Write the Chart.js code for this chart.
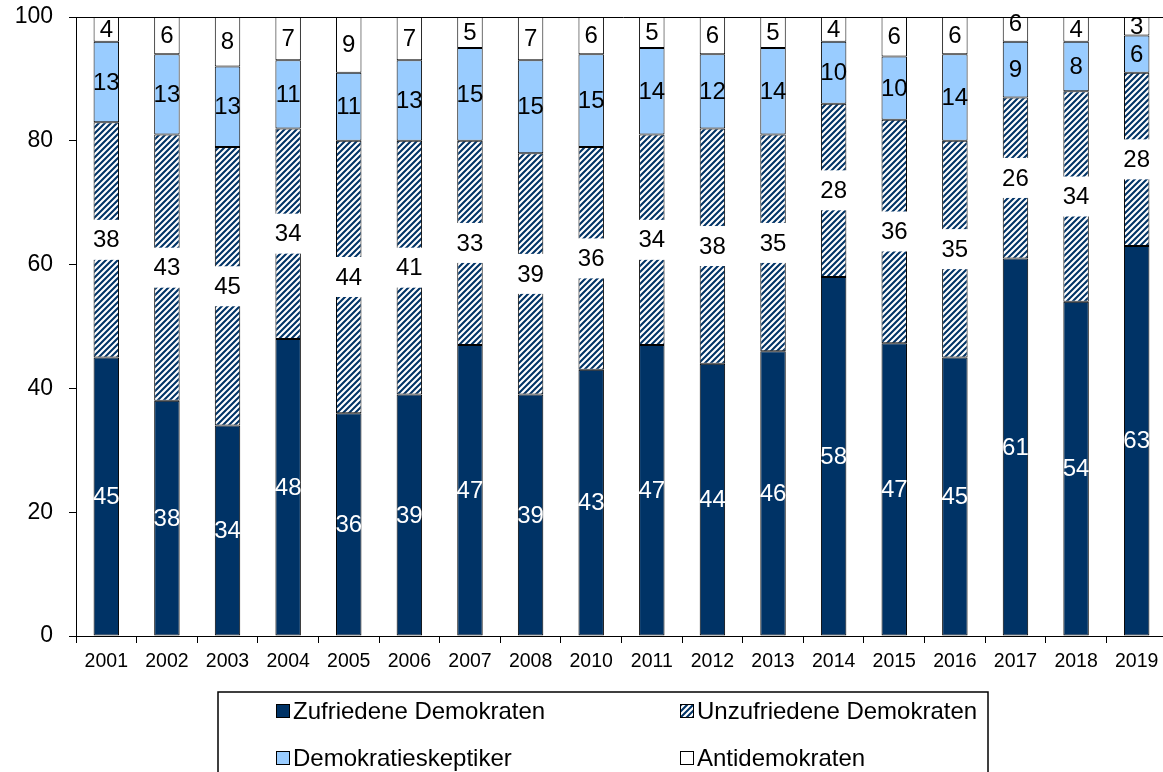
<!DOCTYPE html>
<html><head><meta charset="utf-8">
<script src="https://cdn.jsdelivr.net/npm/chart.js@4/dist/chart.umd.min.js"></script>
<style>html,body{margin:0;padding:0;overflow:hidden;background:#fff}#wrap{width:1170px;height:772px;position:relative}</style>
</head><body><div id="wrap"><canvas id="c" width="1170" height="772" style="width:1170px;height:772px"></canvas></div>
<script>
// ---- data ----
const years = ['2001','2002','2003','2004','2005','2006','2007','2008','2010','2011','2012','2013','2014','2015','2016','2017','2018','2019'];
const zufriedene = [45,38,34,48,36,39,47,39,43,47,44,46,58,47.3,45,61,54,63];
const unzufriedene = [38,43,45,34,44,41,33,39,36,34,38,35,28,36.1,35,26,34,28];
const skeptiker = [13,13,13,11,11,13,15,15,15,14,12,14,10,10.2,14,9,8,6];
const antidemokraten = [4,6,8,7,9,7,5,7,6,5,6,5,4,6.4,6,6,4,3];
const seriesNames = ['Zufriedene Demokraten','Unzufriedene Demokraten','Demokratieskeptiker','Antidemokraten'];
const yTicks = [0,20,40,60,80,100];

const NAVY = '#003366', LIGHT = '#99CCFF';
function makeHatch(){
  const s = 6, cv = document.createElement('canvas'); cv.width = s; cv.height = s;
  const g = cv.getContext('2d');
  g.fillStyle = '#fff'; g.fillRect(0,0,s,s);
  g.strokeStyle = NAVY; g.lineWidth = 2.1; g.lineCap = 'square';
  g.beginPath();
  g.moveTo(-1, s+1); g.lineTo(s+1, -1);
  g.moveTo(-1, 1); g.lineTo(1, -1);
  g.moveTo(s-1, s+1); g.lineTo(s+1, s-1);
  g.stroke();
  return g.createPattern(cv, 'repeat');
}
const hatch = makeHatch();
const FONT = "'Liberation Sans', Arial, sans-serif";
Chart.defaults.font.family = FONT;
Chart.defaults.color = '#000';

const fills = [NAVY, hatch, LIGHT, '#FFFFFF'];
const labelColors = ['#FFFFFF','#000000','#000000','#000000'];
const allSeries = [zufriedene, unzufriedene, skeptiker, antidemokraten];

const labelPlugin = {
  id: 'valueLabels',
  afterDatasetsDraw(chart){
    const ctx = chart.ctx;
    ctx.save();
    ctx.font = '24px ' + FONT;
    ctx.textAlign = 'center'; ctx.textBaseline = 'middle';
    chart.data.datasets.forEach((ds, i) => {
      const meta = chart.getDatasetMeta(i);
      meta.data.forEach((bar, j) => {
        const p = bar.getProps(['x','y','base'], true);
        const cy = (p.y + p.base) / 2;
        const txt = String(Math.round(ds.data[j]));
        if (i === 1) {
          const w = Math.max(ctx.measureText(txt).width + 10, 34);
          ctx.fillStyle = '#fff';
          ctx.fillRect(p.x - w/2, cy - 20, w, 40);
        }
        ctx.fillStyle = labelColors[i];
        ctx.fillText(txt, p.x, cy + 1);
      });
    });
    ctx.restore();
  },
  afterDraw(chart){
    const ctx = chart.ctx, a = chart.chartArea;
    ctx.save();
    ctx.strokeStyle = '#000'; ctx.lineWidth = 1;
    ctx.beginPath(); ctx.moveTo(a.left, a.top + 0.5); ctx.lineTo(a.right + 5, a.top + 0.5); ctx.stroke();
    // legend
    ctx.strokeStyle = '#000'; ctx.lineWidth = 1.5;
    ctx.strokeRect(218, 692, 770, 110);
    const cols = [276, 680], rows = [711, 758];
    ctx.font = '24px ' + FONT; ctx.textBaseline = 'middle'; ctx.textAlign = 'left';
    chart.data.datasets.forEach((ds, i) => {
      const x = cols[i % 2], y = rows[Math.floor(i / 2)];
      ctx.fillStyle = ds.backgroundColor;
      ctx.fillRect(x, y - 7, 14, 14);
      ctx.lineWidth = 1; ctx.strokeStyle = '#000';
      ctx.strokeRect(x + 0.5, y - 6.5, 13, 13);
      ctx.fillStyle = '#000';
      ctx.fillText(ds.label, x + 17, y + 1);
    });
    ctx.restore();
  }
};

new Chart(document.getElementById('c'), {
  type: 'bar',
  data: {
    labels: years,
    datasets: allSeries.map((d, i) => ({
      label: seriesNames[i], data: d,
      backgroundColor: fills[i], borderColor: '#000', borderWidth: 1, borderSkipped: false,
      categoryPercentage: 1, barPercentage: 0.42
    }))
  },
  options: {
    responsive: false, animation: false, devicePixelRatio: 1,
    layout: { padding: { top: 17, right: 3, left: 0, bottom: 0 } },
    plugins: { legend: { display: false }, tooltip: { enabled: false } },
    scales: {
      x: {
        stacked: true,
        ticks: { color: '#000', font: { size: 19.5 }, padding: 7, maxRotation: 0, autoSkip: false },
        grid: { display: true, drawOnChartArea: false, drawTicks: true, tickLength: 7, color: '#000', offset: true },
        border: { color: '#000', width: 1 },
        afterFit(s) { s.height = 136; s.paddingLeft = 0; s.paddingRight = 0; }
      },
      y: {
        stacked: true, min: 0, max: 100,
        afterBuildTicks(s) { s.ticks = yTicks.map(v => ({ value: v })); },
        ticks: { color: '#000', font: { size: 23 }, padding: 16 },
        grid: { display: true, drawOnChartArea: false, drawTicks: true, tickLength: 7, color: '#000' },
        border: { color: '#000', width: 1 },
        afterFit(s) { s.width = 76; s.paddingTop = 0; s.paddingBottom = 0; }
      }
    }
  },
  plugins: [labelPlugin]
});
</script>
</body></html>
